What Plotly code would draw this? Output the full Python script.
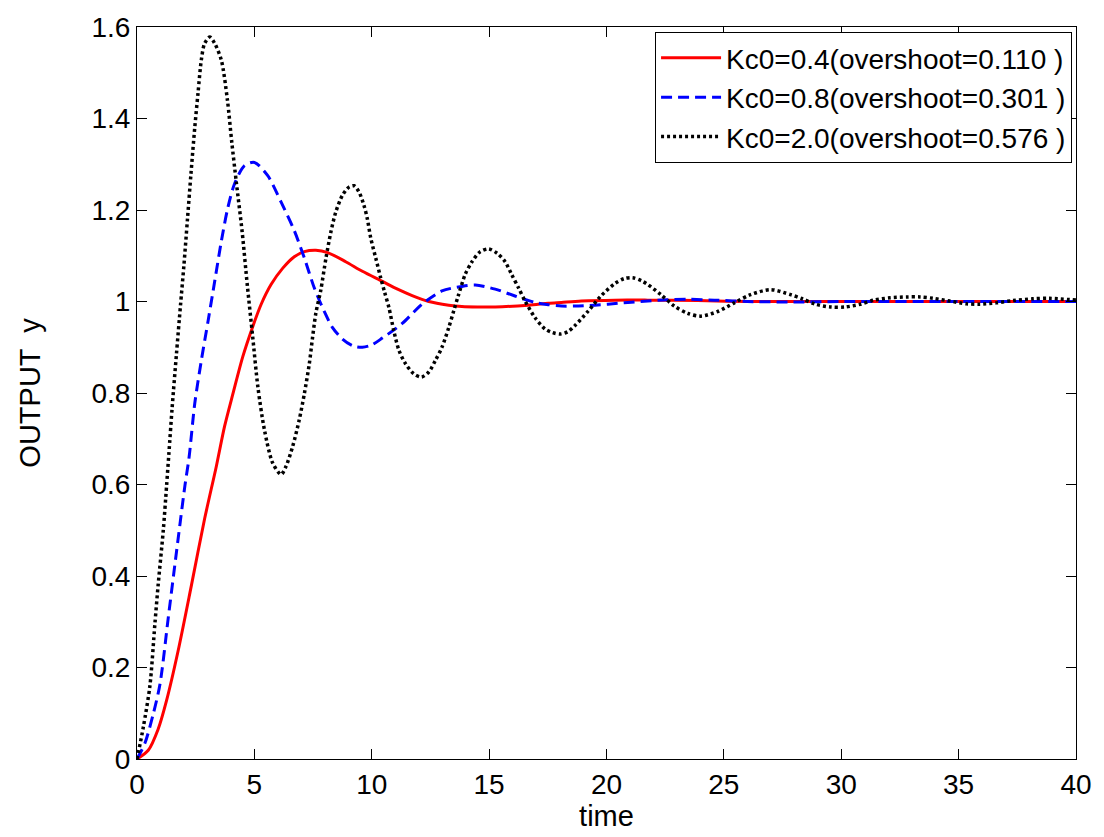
import plotly.graph_objects as go

# ---- data ----
t_red = [0, 0.48, 0.9, 1.26, 1.75, 2.32, 2.88, 3.38, 3.73, 4.09, 4.51, 4.93, 5.29, 5.71, 6.21, 6.70,
         7.13, 7.62, 8.12, 8.89, 9.6, 10.45, 11.1, 11.72, 12.43, 13.28, 13.84, 14.5, 15.26, 16.67,
         17.52, 18.08, 18.93, 20.35, 21.76, 23.88, 26, 30, 35, 40]
y_red = [0, 0.019, 0.065, 0.128, 0.236, 0.38, 0.525, 0.64, 0.727, 0.799, 0.88, 0.945, 0.994, 1.037,
         1.073, 1.098, 1.109, 1.112, 1.107, 1.087, 1.066, 1.044, 1.027, 1.013, 1.0, 0.992, 0.989,
         0.988, 0.988, 0.992, 0.996, 0.998, 1.001, 1.003, 1.003, 1.002, 1.0, 1.0, 1.0, 1.0]

t_blue = [0, 0.34, 0.7, 0.98, 1.33, 1.68, 2.04, 2.22, 2.46, 2.74, 3.03, 3.31, 3.59, 3.87, 4.16, 4.58,
          5.0, 5.57, 6.14, 6.70, 7.13, 7.55, 7.97, 8.33, 8.75, 9.2, 9.6, 10.0, 10.45, 11.30, 12.14,
          12.99, 13.84, 14.41, 15.26, 16.1, 16.95, 17.52, 18.08, 18.65, 19.5, 20.06, 20.91, 21.76,
          22.6, 23.46, 24.59, 26.0, 28, 30, 35, 40]
y_blue = [0, 0.035, 0.1, 0.164, 0.308, 0.452, 0.597, 0.66, 0.777, 0.871, 0.958, 1.044, 1.131, 1.205,
          1.258, 1.297, 1.304, 1.275, 1.217, 1.155, 1.095, 1.030, 0.979, 0.943, 0.918, 0.903, 0.900,
          0.905, 0.920, 0.952, 0.994, 1.023, 1.033, 1.036, 1.027, 1.012, 0.998, 0.993, 0.990, 0.990,
          0.992, 0.994, 0.998, 1.001, 1.004, 1.005, 1.003, 1.0, 0.999, 1.0, 1.0, 1.0]

t_black = [0, 0.27, 0.55, 0.76, 0.90, 1.12, 1.26, 1.36, 1.5, 1.68, 1.85, 2.0, 2.15, 2.3, 2.46, 2.6,
           2.74, 2.88, 3.1, 3.3, 3.59, 3.85, 4.04, 4.23, 4.48, 4.7, 4.93, 5.15, 5.43, 5.78, 6.14,
           6.35, 6.63, 6.91, 7.13, 7.34, 7.48, 7.62, 7.83, 8.05, 8.26, 8.47, 8.75, 9.03, 9.25, 9.46,
           9.67, 9.81, 9.96, 10.17, 10.38, 10.55, 10.73, 10.94, 11.16, 11.44, 11.79, 12.12, 12.43,
           12.71, 12.99, 13.28, 13.49, 13.70, 13.98, 14.27, 14.6, 14.97, 15.35, 15.68, 15.96, 16.25,
           16.53, 16.95, 17.38, 17.7, 18.04, 18.35, 18.65, 19.22, 19.78, 20.35, 20.75, 21.12, 21.5,
           21.76, 22.32, 22.89, 23.46, 24.02, 24.73, 25.44, 26.14, 26.99, 27.84, 28.34, 28.9, 29.54,
           30.17, 30.81, 31.38, 32.08, 32.79, 33.35, 33.92, 34.63, 35.33, 35.9, 36.6, 37.32, 38.16,
           38.87, 40]
y_black = [0, 0.07, 0.16, 0.294, 0.38, 0.50, 0.597, 0.669, 0.77, 0.885, 0.99, 1.08, 1.18, 1.28, 1.38,
           1.456, 1.528, 1.564, 1.578, 1.565, 1.528, 1.441, 1.347, 1.261, 1.152, 1.035, 0.922, 0.813,
           0.719, 0.647, 0.622, 0.640, 0.683, 0.741, 0.799, 0.864, 0.922, 0.975, 1.025, 1.095, 1.152,
           1.196, 1.232, 1.250, 1.253, 1.239, 1.210, 1.181, 1.138, 1.095, 1.052, 1.02, 0.987, 0.936,
           0.893, 0.864, 0.842, 0.835, 0.846, 0.871, 0.900, 0.943, 0.979, 1.015, 1.059, 1.087, 1.108,
           1.115, 1.105, 1.087, 1.059, 1.030, 1.001, 0.965, 0.940, 0.932, 0.929, 0.934, 0.947, 0.979,
           1.013, 1.039, 1.05, 1.052, 1.045, 1.037, 1.015, 0.990, 0.974, 0.968, 0.978, 0.997, 1.015,
           1.026, 1.015, 1.006, 0.994, 0.988, 0.988, 0.994, 1.003, 1.008, 1.010, 1.010, 1.007, 1.001,
           0.995, 0.994, 0.997, 1.002, 1.006, 1.007, 1.003]

names = ["Kc0=0.4(overshoot=0.110 )", "Kc0=0.8(overshoot=0.301 )", "Kc0=2.0(overshoot=0.576 )"]
x_ticks = [0, 5, 10, 15, 20, 25, 30, 35, 40]
y_ticks = [0, 0.2, 0.4, 0.6, 0.8, 1.0, 1.2, 1.4, 1.6]
y_tick_text = ["0", "0.2", "0.4", "0.6", "0.8", "1", "1.2", "1.4", "1.6"]

FONT = "Liberation Sans, Arial, sans-serif"

fig = go.Figure()
fig.add_trace(go.Scatter(x=t_red, y=y_red, mode="lines", name=names[0],
                         line=dict(color="#ff0000", width=3, shape="spline", smoothing=0.8)))
fig.add_trace(go.Scatter(x=t_blue, y=y_blue, mode="lines", name=names[1],
                         line=dict(color="#0000ff", width=3, dash="11px,6px", shape="spline", smoothing=0.8)))
fig.add_trace(go.Scatter(x=t_black, y=y_black, mode="lines", name=names[2],
                         line=dict(color="#000000", width=3.5, dash="3px,3px", shape="spline", smoothing=0.8)))

axis_common = dict(showgrid=False, zeroline=False, showline=True, linecolor="black", linewidth=1,
                   mirror="ticks", ticks="inside", ticklen=10, tickcolor="black", tickwidth=1,
                   tickfont=dict(family=FONT, size=28, color="black"))

fig.update_layout(
    width=1104, height=837,
    margin=dict(l=137, r=24, t=20, b=78),
    paper_bgcolor="white", plot_bgcolor="white",
    font=dict(family=FONT, color="black"),
    showlegend=True,
    legend=dict(x=0.9958, y=0.993, xanchor="right", yanchor="top",
                bgcolor="white", bordercolor="black", borderwidth=1,
                font=dict(family=FONT, size=28, color="black"),
                itemwidth=60, tracegroupgap=0),
    xaxis=dict(range=[0, 40], tickmode="array", tickvals=x_ticks,
               title=dict(text="time", font=dict(family=FONT, size=29, color="black"), standoff=4),
               **axis_common),
    yaxis=dict(range=[0, 1.6], tickmode="array", tickvals=y_ticks, ticktext=y_tick_text,
               title=dict(text="OUTPUT  y", font=dict(family=FONT, size=29, color="black"), standoff=42),
               **axis_common),
)

fig.write_html("out.html")
